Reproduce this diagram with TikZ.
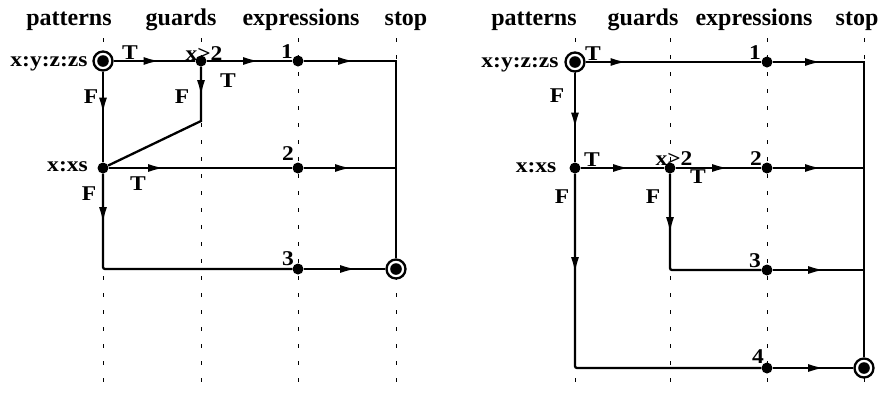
\documentclass[tikz,border=0pt]{standalone}
\usepackage{fontspec}
\setmainfont{Liberation Serif}
\newfontfamily\lblfont[FakeStretch=1.12]{Liberation Serif}
\usetikzlibrary{arrows.meta,decorations.markings}
\tikzset{
 lbl/.style={font=\lblfont\fontsize{21}{24}\selectfont\bfseries, inner sep=0pt, anchor=base},
 ttl/.style={font=\fontsize{24}{28}\selectfont\bfseries, inner sep=0pt, anchor=base},
 dot/.style={circle, fill=black, inner sep=0pt, minimum size=11pt},
 endpt/.style={circle, draw=black, line width=2.3pt, fill=white, inner sep=0pt, minimum size=19pt,
   path picture={\fill[black] (path picture bounding box.center) circle (5.8pt);}},
 flow/.style={line width=2.3pt},
 arr/.style={postaction={decorate}, decoration={markings, mark=at position #1 with {\arrow{Latex[length=16pt,width=8pt]}}}},
 gridline/.style={line width=1pt, dash pattern=on 4pt off 13pt},
}
\begin{document}
\begin{tikzpicture}[x=1pt,y=-1pt]
\useasboundingbox (0,0) rectangle (883,392);
% column guide lines
\foreach \x in {103,201,298,396,575,670,767,864}
  \draw[gridline] (\x,38) -- (\x,392);
% titles
\node[ttl] (tlp) at (69,25) {patterns};
\node[ttl] (tlg) at (181,25) {guards};
\node[ttl] (tle) at (301,25) {expressions};
\node[ttl] (tls) at (406,25) {stop};
\node[ttl] (trp) at (534,25) {patterns};
\node[ttl] (trg) at (643,25) {guards};
\node[ttl] (tre) at (754,25) {expressions};
\node[ttl] (trs) at (857,25) {stop};

% ---------------- left diagram
\node[endpt] (L0) at (103,61) {};
\node[dot] (Lg) at (201,61) {};
\node[dot] (L1) at (298,61) {};
\coordinate (Ltr) at (396,61);
\coordinate (Lgc) at (201,121);
\node[dot] (Lx) at (103,168) {};
\node[dot] (L2) at (298,168) {};
\coordinate (Lmr) at (396,168);
\coordinate (Lbl) at (103,269);
\node[dot] (L3) at (298,269) {};
\node[endpt] (Ls) at (396,269) {};

\draw[flow, arr=46pt] (L0) -- (Lg);
\draw[flow, arr=52.5pt] (Lg) -- (L1);
\draw[flow, arr=50.5pt] (L1) -- (Ltr) -- (Ls);
\draw[flow, arr=29.5pt] (Lg) -- (Lgc) -- (Lx);
\draw[flow, arr=42pt] (L0) -- (Lx);
\draw[flow, arr=55.5pt] (Lx) -- (L2);
\draw[flow, arr=47.5pt] (L2) -- (Lmr);
\draw[flow, rounded corners=2pt, arr=49.5pt] (Lx) -- (Lbl) -- (L3);
\draw[flow, arr=52.5pt] (L3) -- (Ls);

\node[lbl] (la) at (49,66) {x:y:z:zs};
\node[lbl] (lb) at (130,59) {T};
\node[lbl] (lc) at (204,60) {x>2};
\node[lbl] (ld) at (287,58) {1};
\node[lbl] (le) at (91,103) {F};
\node[lbl] (lf) at (182,103) {F};
\node[lbl] (lg) at (228,87) {T};
\node[lbl] (lh) at (67.5,171) {x:xs};
\node[lbl] (li) at (288,160) {2};
\node[lbl] (lj) at (138,190) {T};
\node[lbl] (lk) at (89,200) {F};
\node[lbl] (ll) at (288,265) {3};

% ---------------- right diagram
\node[endpt] (R0) at (575,62) {};
\node[dot] (R1) at (767,62) {};
\coordinate (Rtr) at (864,62);
\node[dot] (Rx) at (575,168) {};
\node[dot] (Rg) at (670,168) {};
\node[dot] (R2) at (767,168) {};
\coordinate (Rmr) at (864,168);
\coordinate (Rgc) at (670,270);
\node[dot] (R3) at (767,270) {};
\coordinate (Rmr3) at (864,270);
\coordinate (Rbl) at (575,368);
\node[dot] (R4) at (767,368) {};
\node[endpt] (Rs) at (864,368) {};

\draw[flow, arr=41pt] (R0) -- (R1);
\draw[flow, arr=48.5pt] (R1) -- (Rtr) -- (Rs);
\draw[flow, arr=56pt] (R0) -- (Rx);
\draw[flow, arr=48.5pt] (Rx) -- (Rg);
\draw[flow, arr=52.5pt] (Rg) -- (R2);
\draw[flow, arr=48.5pt] (R2) -- (Rmr);
\draw[flow, rounded corners=2pt, arr=99.5pt] (Rx) -- (Rbl) -- (R4);
\draw[flow, rounded corners=2pt, arr=59.5pt] (Rg) -- (Rgc) -- (R3);
\draw[flow, arr=51.5pt] (R3) -- (Rmr3);
\draw[flow, arr=51.5pt] (R4) -- (Rs);

\node[lbl] (ra) at (520,67) {x:y:z:zs};
\node[lbl] (rb) at (593,60) {T};
\node[lbl] (rc) at (755,59) {1};
\node[lbl] (rd) at (557,102) {F};
\node[lbl] (re) at (536,172) {x:xs};
\node[lbl] (rf) at (592,166) {T};
\node[lbl] (rg) at (674,165) {x>2};
\node[lbl] (rh) at (756,165) {2};
\node[lbl] (ri) at (698,183) {T};
\node[lbl] (rj) at (562,203) {F};
\node[lbl] (rk) at (653,203) {F};
\node[lbl] (rl) at (755,267) {3};
\node[lbl] (rm) at (758,363) {4};
\end{tikzpicture}
\end{document}
